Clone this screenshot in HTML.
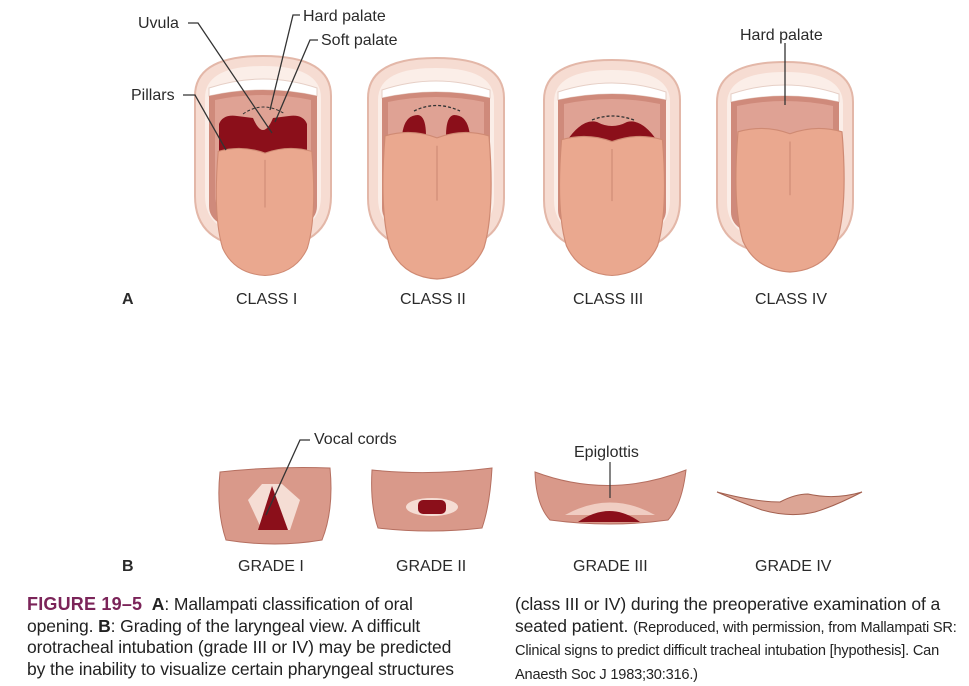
<!DOCTYPE html>
<html><head><meta charset="utf-8"><style>
html,body{margin:0;padding:0;background:#fff;}
body{width:969px;height:684px;position:relative;overflow:hidden;font-family:"Liberation Sans",sans-serif;}
svg{position:absolute;left:0;top:0;}
.t{font-family:"Liberation Sans",sans-serif;fill:#2a2a2a;}
.cap{position:absolute;font-size:17.5px;line-height:21.6px;color:#222;letter-spacing:-0.1px;white-space:nowrap;}
.cap b.f{color:#7b2459;font-size:18px;letter-spacing:0.2px;}
.small{font-size:14.6px;letter-spacing:-0.2px;}
</style></head><body>
<svg width="969" height="684" viewBox="0 0 969 684">
<defs>
<g id="mouth">
  <path d="M-68 40 Q-68 0 0 0 Q68 0 68 40 L68 140 Q68 192 0 192 Q-68 192 -68 140Z" fill="#f6dcd2" stroke="#e3b7a8" stroke-width="2"/>
  <path d="M-58 42 Q-58 10 0 10 Q58 10 58 42 L58 140 Q58 180 0 180 Q-58 180 -58 140Z" fill="#fbeee8"/>
  <path d="M-54 32 Q0 14 54 32 L54 40 Q0 28 -54 40Z" fill="#ffffff" stroke="#e6cfc6"/>
  <path d="M-54 40 Q0 28 54 40 L54 150 Q54 175 0 175 Q-54 175 -54 150Z" fill="#cf8a7b"/>
  <path d="M-48 44 Q0 34 48 44 L48 140 Q48 165 0 165 Q-48 165 -48 140Z" fill="#dfa294"/>
</g>
<g id="tongue">
  <path d="M-52 4 Q-26 -4 0 6 Q26 -4 52 4 Q58 80 47 118 Q34 148 0 150 Q-34 148 -47 118 Q-58 80 -52 4Z" fill="#eaa88f" stroke="#cf8a73" stroke-width="1.2"/>
  <path d="M0 14 L0 70" stroke="#c98670" stroke-width="1"/>
</g>
</defs>

<!-- Class I -->
<g transform="translate(263,56)">
  <use href="#mouth"/>
  <path d="M-44 68 Q-40 58 -26 60 L-10 62 Q0 86 10 62 L26 60 Q40 58 44 68 L44 100 L-44 100Z" fill="#8b0f1a"/>
  <path d="M-20 58 Q0 44 22 58" fill="none" stroke="#333" stroke-dasharray="3,2"/>
</g>
<g transform="translate(265,148) scale(0.9,0.85)"><use href="#tongue"/></g>
<!-- Class II -->
<g transform="translate(436,58)">
  <use href="#mouth"/>
  <path d="M-34 78 Q-32 57 -18 57 Q-10 58 -10 78Z" fill="#8b0f1a"/>
  <path d="M34 78 Q32 57 18 57 Q10 58 10 78Z" fill="#8b0f1a"/>
  <path d="M-22 53 Q0 42 24 53" fill="none" stroke="#333" stroke-width="1.3" stroke-dasharray="3,2"/>
</g>
<g transform="translate(437,132) scale(1,0.98)"><use href="#tongue"/></g>
<!-- Class III -->
<g transform="translate(612,60)">
  <use href="#mouth"/>
  <path d="M-46 82 Q-30 58 -15 62 Q0 70 15 62 Q30 58 46 82Z" fill="#8b0f1a"/>
  <path d="M-20 60 Q0 52 22 60" fill="none" stroke="#333" stroke-width="1.3" stroke-dasharray="3,2"/>
</g>
<g transform="translate(612,136) scale(0.97,0.93)"><use href="#tongue"/></g>
<!-- Class IV -->
<g transform="translate(785,62)">
  <use href="#mouth"/>
</g>
<g transform="translate(790,128) scale(1,0.96)"><use href="#tongue"/></g>

<!-- leader lines top -->
<g stroke="#333" stroke-width="1.3" fill="none">
  <path d="M188 23 L198 23 L272 133"/>
  <path d="M300 15 L293 15 L270 110"/>
  <path d="M318 40 L310 40 L275 122"/>
  <path d="M183 95 L195 95 L226 150"/>
  <path d="M785 43 L785 105"/>
</g>
<g font-size="16" class="t">
  <text x="138" y="28" class="t">Uvula</text>
  <text x="303" y="21" class="t">Hard palate</text>
  <text x="321" y="45" class="t">Soft palate</text>
  <text x="131" y="100" class="t">Pillars</text>
  <text x="740" y="40" class="t">Hard palate</text>
  <text x="122" y="304" font-weight="bold">A</text>
  <text x="236" y="304">CLASS I</text>
  <text x="400" y="304">CLASS II</text>
  <text x="573" y="304">CLASS III</text>
  <text x="755" y="304">CLASS IV</text>
  <text x="122" y="571" font-weight="bold">B</text>
  <text x="238" y="571">GRADE I</text>
  <text x="396" y="571">GRADE II</text>
  <text x="573" y="571">GRADE III</text>
  <text x="755" y="571">GRADE IV</text>
  <text x="314" y="444">Vocal cords</text>
  <text x="574" y="457">Epiglottis</text>
</g>

<!-- Grade I -->
<path d="M220 472 Q275 466 330 468 Q334 510 322 540 Q275 548 226 540 Q216 510 220 472Z" fill="#d9998a" stroke="#b56f60"/>
<path d="M248 500 L262 484 L282 484 L300 500 L290 530 L262 530Z" fill="#f5ddd4"/>
<path d="M272 486 L258 530 L288 530Z" fill="#8b0f1a"/>
<path d="M310 440 L300 440 L266 515" stroke="#333" stroke-width="1.3" fill="none"/>
<!-- Grade II -->
<path d="M372 470 Q430 476 492 468 Q490 505 482 528 Q430 534 378 528 Q370 505 372 470Z" fill="#d9998a" stroke="#b56f60"/>
<ellipse cx="432" cy="507" rx="26" ry="9" fill="#f5ddd4"/>
<rect x="418" y="500" width="28" height="14" rx="5" fill="#8b0f1a"/>
<!-- Grade III -->
<path d="M535 472 Q610 500 686 470 Q682 505 668 520 Q610 528 550 520 Q536 505 535 472Z" fill="#d9998a" stroke="#b56f60"/>
<path d="M565 515 Q610 490 655 515Z" fill="#f0cdc2"/>
<path d="M578 522 Q610 500 640 522Z" fill="#8b0f1a"/>
<path d="M610 462 L610 498" stroke="#333" stroke-width="1.2"/>
<!-- Grade IV -->
<path d="M717 492 Q755 502 780 502 Q795 494 808 494 Q835 500 862 492 Q835 506 815 512 Q790 518 762 510 Q740 502 717 492Z" fill="#dca595" stroke="#a3604f"/>
</svg>

<div class="cap" style="left:27px;top:594px;"><b class="f">FIGURE 19–5</b>&nbsp; <b>A</b>: Mallampati classification of oral<br>opening. <b>B</b>: Grading of the laryngeal view. A difficult<br>orotracheal intubation (grade III or IV) may be predicted<br>by the inability to visualize certain pharyngeal structures</div>
<div class="cap" style="left:515px;top:594px;">(class III or IV) during the preoperative examination of a<br>seated patient. <span class="small">(Reproduced, with permission, from Mallampati SR:<br>Clinical signs to predict difficult tracheal intubation [hypothesis]. Can<br>Anaesth Soc J 1983;30:316.)</span></div>
</body></html>
